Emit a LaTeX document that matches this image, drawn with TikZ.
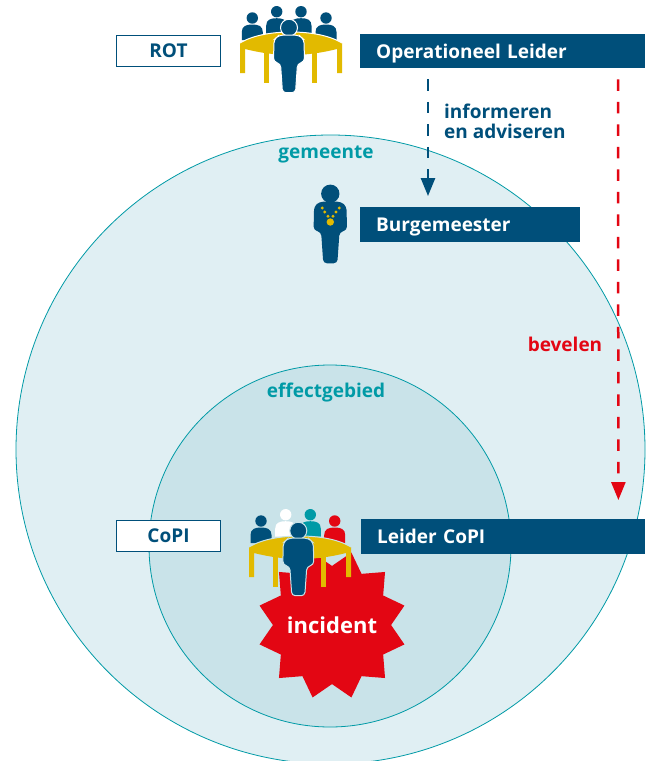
\documentclass[tikz,border=0pt]{standalone}
\usepackage{fontspec}
\setmainfont{Open Sans}
\usetikzlibrary{arrows.meta, shapes.geometric}
\definecolor{donkerblauw}{HTML}{004F7A}
\definecolor{goud}{HTML}{E2BA00}
\definecolor{rood}{HTML}{E30613}
\definecolor{teal}{HTML}{009AA6}
\definecolor{lichtvlak}{HTML}{E0EFF3}
\definecolor{middenvlak}{HTML}{C9E3E9}
\tikzset{
    balk/.style = {fill = donkerblauw, text = white, font = \fontsize{19}{20}\selectfont\bfseries, inner xsep = 16pt, inner ysep = 0pt, text height = 14pt, text depth = 0pt, minimum height = 34.5pt, align = left, anchor = west},
    kader/.style = {draw = donkerblauw, fill = white, text = donkerblauw, font = \fontsize{19}{20}\selectfont\bfseries, line width = 1.2pt, minimum width = 104pt, minimum height = 31pt, inner sep = 0pt},
    gebied/.style = {text = teal, font = \fontsize{19}{20}\selectfont\bfseries},
    pijl/.style = {line width = 2.5pt, dash pattern = on 11.5pt off 11pt, dash phase = 11.5pt, -{Triangle[length = 18pt, width = 14pt]}},
    pics/zit/.style = {code = {
        \fill[#1] (0, 0) circle (5.7pt);
        \fill[#1] (-10.5, 22) -- (-10.5, 14) .. controls (-10.5, 8) and (-6, 6.5) .. (0, 6.5) .. controls (6, 6.5) and (10.5, 8) .. (10.5, 14) -- (10.5, 22) -- cycle;
    }},
    pics/staand/.style = {code = {
        \filldraw[fill = donkerblauw, draw = #1, line width = 1pt] (0, 0) circle (8.5pt);
        \filldraw[fill = donkerblauw, draw = #1, line width = 1pt, rounded corners = 3.5pt] (-10, 7.5) -- (10, 7.5) -- (15, 12) -- (15.5, 34) -- (8.5, 36) -- (6.5, 65) -- (-6.5, 65) -- (-8.5, 36) -- (-15.5, 34) -- (-15, 12) -- cycle;
    }},
    pics/tafel/.style = {code = {
        \fill[goud] (-27, 15) rectangle (-22, 51);
        \fill[goud] (21, 15) rectangle (26, 51);
        \fill[goud] (-51, 11) .. controls (-38, 3) and (-18, 0) .. (0, 0) .. controls (18, 0) and (38, 3) .. (51, 11) -- (51, 41) -- (46, 41) -- (46, 17) .. controls (30, 21) and (15, 23) .. (0, 23) .. controls (-15, 23) and (-30, 21) .. (-46, 17) -- (-46, 41) -- (-51, 41) -- cycle;
        \draw[#1, line width = 1pt] (-51, 11) .. controls (-38, 3) and (-18, 0) .. (0, 0) .. controls (18, 0) and (38, 3) .. (51, 11);
    }}
}
\begin{document}
\begin{tikzpicture}[x = 1pt, y = -1pt]
        \clip (0, 0) rectangle (647, 761);
        \fill[white] (0, 0) rectangle (647, 761);

        \filldraw[fill = lichtvlak, draw = teal, line width = 0.8pt] (330.5, 449.5) circle (314.5pt);
        \filldraw[fill = middenvlak, draw = teal, line width = 0.8pt] (330, 546) circle (181pt);

        \node[gebied] (gemeente) at (326, 154) {gemeente};
        \node[gebied] (effect) at (326, 393) {effectgebied};

        \node[balk, text width = 253pt] (oper) at (360, 51) {Operationeel Leider};
        \node[balk, text width = 188pt] (burg) at (360, 224.5) {Burgemeester};
        \node[balk, text width = 252pt] (leider) at (361, 536.5) {Leider CoPI};
        \node[kader] (rot) at (168.5, 51) {ROT};
        \node[kader] (copi) at (168.5, 536) {CoPI};

        \draw[pijl, donkerblauw] ([xshift = 68pt]oper.south west) -- ([xshift = 68pt, yshift = 11pt]burg.north west);
        \draw[pijl, rood] ([xshift = 258pt]oper.south west) -- ([xshift = -27pt, yshift = 19pt]leider.north east);

        \node[text = donkerblauw, font = \fontsize{19}{20}\selectfont\bfseries, align = left, anchor = west, inner sep = 0pt] (advies) at (444, 121) {informeren\\en adviseren};
        \node[text = rood, font = \fontsize{19}{20}\selectfont\bfseries] (bevelen) at (565, 344) {bevelen};

        \node[star, star points = 12, star point ratio = 1.27, shape border rotate = 15, minimum size = 150pt, inner sep = 0pt, fill = rood] (ster) at (332, 625) {};
        \node[text = white, font = \fontsize{22}{26}\selectfont\bfseries] (incident) at (ster.center) {incident};

        \pic at (252.3, 18) {zit = donkerblauw};
        \pic at (276.7, 11.7) {zit = donkerblauw};
        \pic at (301, 11.7) {zit = donkerblauw};
        \pic at (326, 18) {zit = donkerblauw};
        \pic at (291, 32) {tafel = white};
        \pic at (289, 27.7) {staand = white};

        \pic[xscale = 1.08, yscale = 1.07] at (330.3, 193.7) {staand = none};
        \foreach \dotx/\doty in {322.3/208, 339.3/208, 324.7/212, 336/212, 328/216.3, 333/216.3} {
                \fill[goud] (\dotx, \doty) circle (1.6pt);
        }
        \fill[goud] (330.3, 222) circle (3.7pt);

        \pic at (261, 521) {zit = donkerblauw};
        \pic at (285.7, 514.7) {zit = white};
        \pic at (310.3, 514.7) {zit = teal};
        \pic at (334.7, 521) {zit = rood};
        \pic at (300, 536) {tafel = middenvlak};
        \pic at (298.3, 530.7) {staand = middenvlak};
    \end{tikzpicture}
\end{document}
